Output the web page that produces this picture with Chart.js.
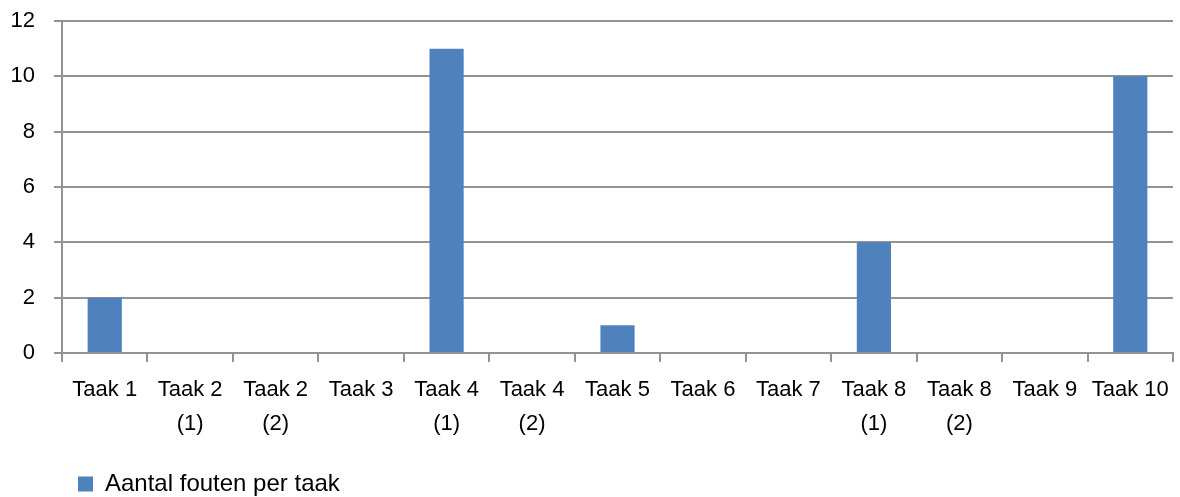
<!DOCTYPE html>
<html lang="nl">
<head>
  <meta charset="UTF-8" />
  <title>Aantal fouten per taak</title>
  <style>
    html, body { margin: 0; padding: 0; background: #fff; }
    .wrap { width: 1180px; height: 497px; }
  </style>
</head>
<body>
  <div class="wrap">
    <canvas id="fouten" width="1180" height="497"></canvas>
  </div>

  <script src="https://cdn.jsdelivr.net/npm/chart.js"></script>
  <script>
    // taken, met tweede regel voor de deeltaken
    const taken = [
      'Taak 1', ['Taak 2', '(1)'], ['Taak 2', '(2)'], 'Taak 3',
      ['Taak 4', '(1)'], ['Taak 4', '(2)'], 'Taak 5', 'Taak 6', 'Taak 7',
      ['Taak 8', '(1)'], ['Taak 8', '(2)'], 'Taak 9', 'Taak 10'
    ];
    const fouten = [2, 0, 0, 0, 11, 0, 1, 0, 0, 4, 0, 0, 10];
    const yTicks = [0, 2, 4, 6, 8, 10, 12];

    const lijnKleur = '#939393';
    const lettertype = { family: "'Liberation Sans', Arial, sans-serif", size: 22 };

    new Chart(document.getElementById('fouten'), {
      type: 'bar',
      data: {
        labels: taken,
        datasets: [{
          label: 'Aantal fouten per taak',
          data: fouten,
          backgroundColor: '#4F81BD',
          borderWidth: 0,
          barPercentage: 0.4,
          categoryPercentage: 1
        }]
      },
      options: {
        responsive: false,
        animation: false,
        layout: { padding: { top: 21, right: 5, bottom: -9, left: 0 } },
        plugins: {
          tooltip: { enabled: false },
          legend: {
            position: 'bottom',
            align: 'start',
            fullSize: false,
            labels: {
              color: '#000',
              font: { family: lettertype.family, size: 24 },
              boxWidth: 15,
              boxHeight: 15,
              padding: 16
            }
          }
        },
        scales: {
          x: {
            offset: true,
            grid: {
              offset: true,
              drawOnChartArea: false,
              color: lijnKleur,
              lineWidth: 2,
              tickLength: 9
            },
            border: { color: lijnKleur, width: 2 },
            ticks: {
              color: '#000',
              font: Object.assign({ lineHeight: 1.55 }, lettertype),
              padding: 11,
              maxRotation: 0,
              autoSkip: false
            },
            afterFit(scale) { scale.height = 103; }
          },
          y: {
            min: 0,
            max: 12,
            afterBuildTicks(scale) { scale.ticks = yTicks.map(v => ({ value: v })); },
            grid: {
              color: lijnKleur,
              lineWidth: 2,
              tickLength: 8
            },
            border: { color: lijnKleur, width: 2 },
            ticks: {
              color: '#000',
              font: lettertype,
              padding: 19
            },
            afterFit(scale) {
              scale.width = 62;
              // de label-padding hoort niet boven/onder het plotvlak
              scale.paddingTop = 0;
              scale.paddingBottom = 0;
            }
          }
        }
      }
    });
  </script>
</body>
</html>
